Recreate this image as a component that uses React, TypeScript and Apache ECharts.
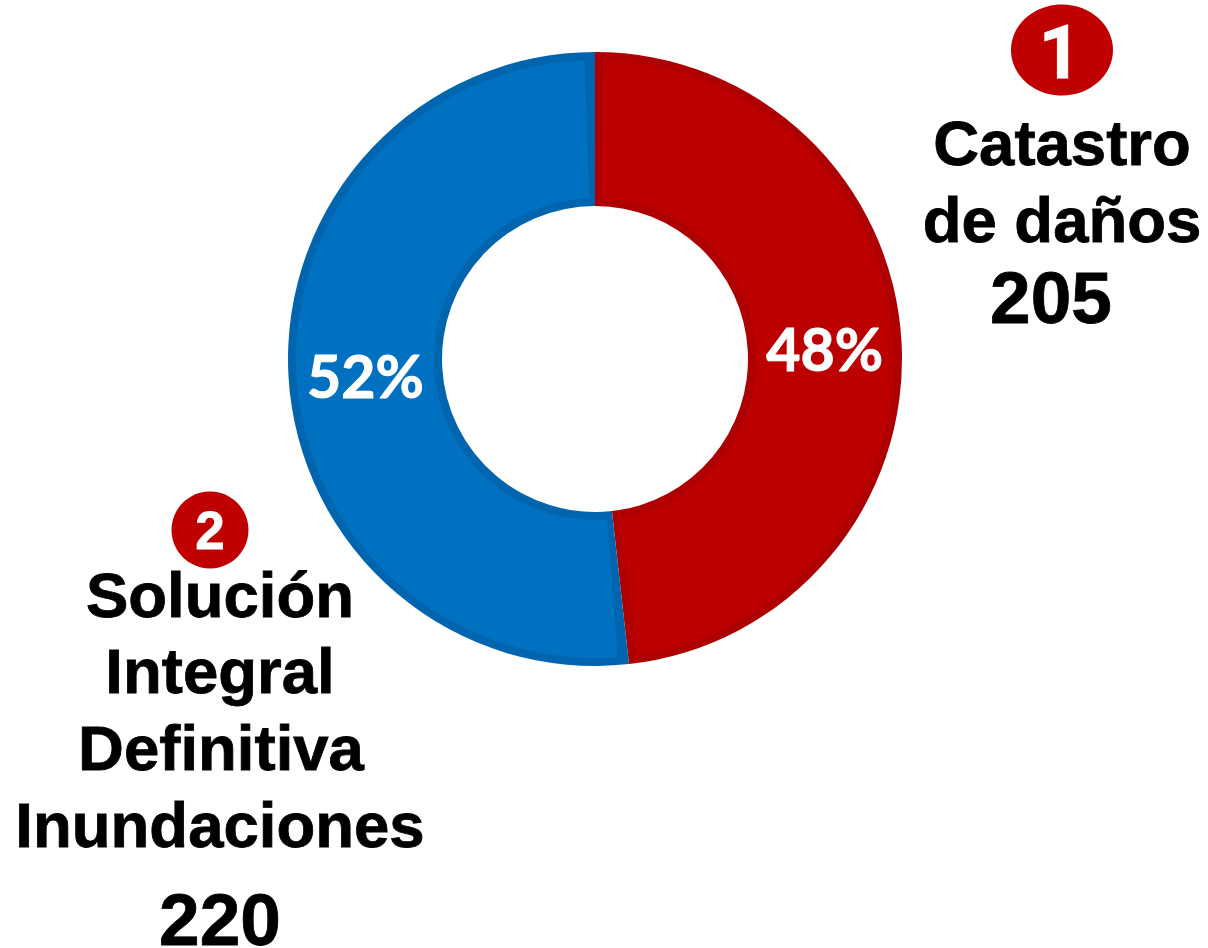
import React, { useEffect, useRef } from "react";
import * as echarts from "echarts";

const categories = ["Catastro de daños", "Solución Integral Definitiva Inundaciones"];
const seriesValues = [205, 220];
const fillColors = ["#BC0000", "#0070C0"];
const edgeColors = ["#AE0000", "#0065AE"];
const badgeNumbers = ["1", "2"];
const firstBlockLines = ["Catastro", "de daños"];
const secondBlockLines = ["Solución", "Integral", "Definitiva", "Inundaciones"];
const totals = ["205", "220"];
const labelOffsets = [[-3, 2], [3, 4]];

const FONT = "'Liberation Sans', Arial, sans-serif";

function label(text: string, x: number, y: number, fontSize: number, fill = "#000000", fontFamily = FONT) {
  return {
    type: "text",
    x,
    y,
    silent: true,
    style: {
      text,
      fill,
      stroke: fill,
      lineWidth: 0.8,
      fontFamily,
      fontWeight: "bold",
      fontSize,
      align: "center",
      verticalAlign: "middle",
    },
  };
}

export default function App() {
  const ref = useRef<HTMLDivElement>(null);
  useEffect(() => {
    const chart = echarts.init(ref.current!, null, { renderer: "svg" });
    const center = [595, 359];
    chart.setOption({
      animation: false,
      backgroundColor: "#ffffff",
      series: [
        {
          type: "pie",
          silent: true,
          center,
          radius: [153, 307],
          startAngle: 90,
          clockwise: true,
          label: { show: false },
          labelLine: { show: false },
          data: categories.map((name, i) => ({
            name,
            value: seriesValues[i],
            itemStyle: { color: edgeColors[i] },
          })),
        },
        {
          type: "pie",
          silent: true,
          center,
          radius: [161, 299],
          startAngle: 90,
          clockwise: true,
          padAngle: 4,
          percentPrecision: 0,
          label: {
            show: true,
            position: "inside",
            formatter: "{d}%",
            color: "#ffffff",
            fontFamily: "Lato, sans-serif",
            fontWeight: "bold",
            fontSize: 59,
            textBorderColor: "#ffffff",
            textBorderWidth: 1,
          },
          labelLine: { show: false },
          data: categories.map((name, i) => ({
            name,
            value: seriesValues[i],
            itemStyle: { color: fillColors[i] },
            label: { offset: labelOffsets[i] },
          })),
        },
      ],
      graphic: [
        { type: "ellipse", silent: true, shape: { cx: 1062, cy: 50, rx: 51, ry: 45.5 }, style: { fill: "#C00000" } },
        label(badgeNumbers[0], 1060, 52, 74, "#ffffff", "Roboto, sans-serif"),
        { type: "circle", silent: true, shape: { cx: 210, cy: 530, r: 38.5 }, style: { fill: "#C00000" } },
        label(badgeNumbers[1], 210, 530, 53, "#ffffff"),
        label(firstBlockLines[0], 1062, 143, 63.5),
        label(firstBlockLines[1], 1062, 220, 63.5),
        label(totals[0], 1051, 297, 73),
        label(secondBlockLines[0], 220, 595, 63.5),
        label(secondBlockLines[1], 220, 671, 63.5),
        label(secondBlockLines[2], 221, 748, 63.5),
        label(secondBlockLines[3], 220, 825, 63.5),
        label(totals[1], 220, 919, 73),
      ],
    });
    return () => chart.dispose();
  }, []);
  return <div ref={ref} style={{ position: "fixed", left: 0, top: 0, width: 1208, height: 948 }} />;
}
